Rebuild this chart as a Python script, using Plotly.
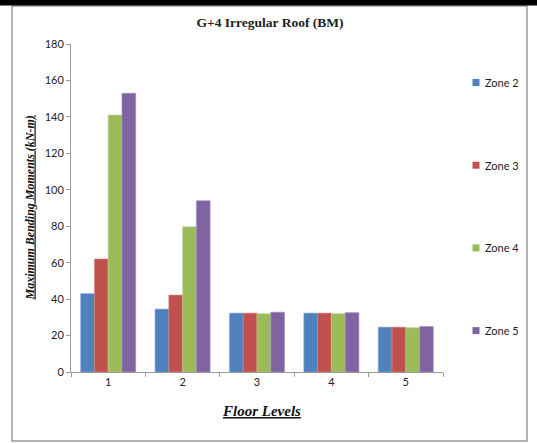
import plotly.graph_objects as go

floors = ["1", "2", "3", "4", "5"]
zone2 = [43, 34.5, 32.3, 32.3, 24.6]
zone3 = [62, 42.2, 32.3, 32.3, 24.6]
zone4 = [141, 79.7, 32, 32, 24.3]
zone5 = [153, 94, 32.8, 32.6, 25]
series_names = ["Zone 2", "Zone 3", "Zone 4", "Zone 5"]
colors = ["#4F81BD", "#C0504D", "#9BBB59", "#8064A2"]
edge_colors = ["#7FA3D3", "#D68381", "#BCD48E", "#A892C2"]
y_ticks = [0, 20, 40, 60, 80, 100, 120, 140, 160, 180]

W, H = 537, 443
L, R, T, B = 71, 443, 44, 372
pw, ph = R - L, B - T

def px(x):
    return (x - L) / pw

def py(y):
    return (B - y) / ph

fig = go.Figure()
for i, (name, vals) in enumerate(zip(series_names, [zone2, zone3, zone4, zone5])):
    fig.add_trace(go.Bar(
        x=floors, y=vals, name=name,
        marker=dict(color=colors[i], line=dict(color=edge_colors[i], width=0.6)),
        showlegend=False,
    ))

tick_font = dict(family="Lato, 'Open Sans', sans-serif", size=11, color="#222")
serif = "Liberation Serif, 'Times New Roman', serif"

annotations = [
    dict(text="<u><b><i>Maximum Bending Moments (kN-m)</i></b></u>",
         x=px(29.5), y=py(208), xref="paper", yref="paper", textangle=-90,
         showarrow=False, xanchor="center", yanchor="middle",
         font=dict(family=serif, size=12, color="#111")),
    dict(text="<u><b><i>Floor Levels</i></b></u>",
         x=px(261), y=py(411), xref="paper", yref="paper",
         showarrow=False, xanchor="center", yanchor="middle",
         font=dict(family=serif, size=15, color="#111")),
]
shapes = [
    dict(type="rect", xref="paper", yref="paper",
         x0=px(12), x1=px(527), y0=py(441), y1=py(6),
         line=dict(color="#9a9a9a", width=1.5), fillcolor="rgba(0,0,0,0)", layer="below"),
    dict(type="rect", xref="paper", yref="paper",
         x0=px(0), x1=px(537), y0=py(5.5), y1=py(0),
         line=dict(width=0), fillcolor="black", layer="above"),
]

# legend (swatch + label), laid out like the reference
legend_y0, legend_step = 82.5, 82.7
for i, name in enumerate(series_names):
    yc = legend_y0 + i * legend_step
    shapes.append(dict(type="rect", xref="paper", yref="paper",
                       x0=px(472.5), x1=px(479.5), y0=py(yc + 3.5), y1=py(yc - 3.5),
                       line=dict(width=0), fillcolor=colors[i]))
    annotations.append(dict(text=name, x=px(483), y=py(yc), xref="paper", yref="paper",
                            showarrow=False, xanchor="left", yanchor="middle",
                            font=tick_font))

fig.update_layout(
    width=W, height=H,
    margin=dict(l=L, r=W - R, t=T, b=H - B, autoexpand=False),
    paper_bgcolor="white", plot_bgcolor="white",
    barmode="group", bargap=0.26, bargroupgap=0,
    showlegend=False,
    title=dict(
        text="<b>G+4 Irregular Roof (BM)</b>",
        x=270 / W, xanchor="center", y=1 - 22.5 / H, yanchor="middle",
        xref="container", yref="container",
        font=dict(family=serif, size=13.5, color="#222"),
    ),
    xaxis=dict(
        type="category", showline=True, linecolor="#9a9a9a", linewidth=1,
        ticks="outside", ticklen=4, tickcolor="#9a9a9a", tickson="boundaries",
        showgrid=False, zeroline=False, automargin=False, tickfont=tick_font,
    ),
    yaxis=dict(
        range=[0, 180], tickvals=y_ticks, showline=True, linecolor="#9a9a9a",
        linewidth=1, ticks="outside", ticklen=4, tickcolor="#9a9a9a",
        showgrid=False, zeroline=False, automargin=False, tickfont=tick_font,
    ),
    annotations=annotations,
    shapes=shapes,
)

fig.write_html(
    "out.html",
    config={"displayModeBar": False},
    post_script="document.body.style.margin='0';document.body.style.overflow='hidden';",
)
